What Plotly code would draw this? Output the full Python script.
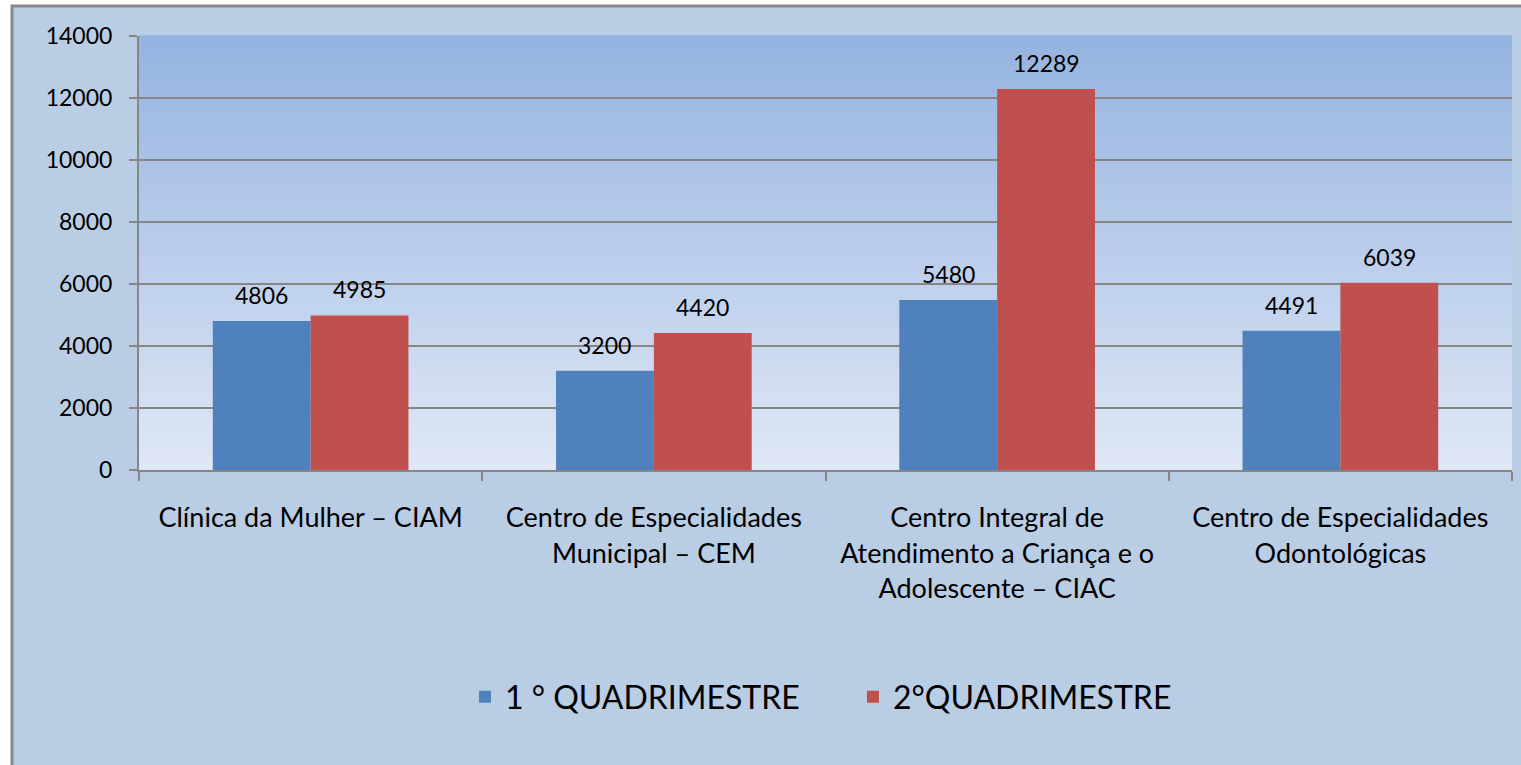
import plotly.graph_objects as go

categories = [
    "Clínica da Mulher – CIAM",
    "Centro de Especialidades<br>Municipal – CEM",
    "Centro Integral de<br>Atendimento a Criança e o<br>Adolescente – CIAC",
    "Centro de Especialidades<br>Odontológicas",
]
q1_values = [4806, 3200, 5480, 4491]
q2_values = [4985, 4420, 12289, 6039]
series_names = ["1 ° QUADRIMESTRE", "2°QUADRIMESTRE"]
y_ticks = [0, 2000, 4000, 6000, 8000, 10000, 12000, 14000]
y_tick_labels = [str(v) for v in y_ticks]

FONT = "Lato"
W, H = 1521, 765
L, R, T, B = 139, 9, 36, 295
pw, ph = W - L - R, H - T - B
BARGAP = 0.43
half_bar = pw / len(categories) * (1 - BARGAP) / 4

fig = go.Figure()
fig.add_trace(go.Bar(x=categories, y=q1_values, name=series_names[0],
                     marker=dict(color="#4f81bd", line=dict(width=0))))
fig.add_trace(go.Bar(x=categories, y=q2_values, name=series_names[1],
                     marker=dict(color="#c0504d", line=dict(width=0))))

annotations = []
for vals, sign in ((q1_values, -1), (q2_values, 1)):
    for c, v in zip(categories, vals):
        annotations.append(dict(x=c, y=v, xref="x", yref="y", text=str(v), showarrow=False,
                                xshift=sign * half_bar, yshift=26, yanchor="middle",
                                font=dict(size=23, family=FONT, color="black")))

shapes = []
# outer chart frame
shapes.append(dict(type="rect", xref="paper", yref="paper",
                   x0=(12 - L) / pw, x1=(W + 20 - L) / pw,
                   y0=-(H + 20 - T - ph) / ph, y1=1 + (T - 6) / ph,
                   fillcolor="#b9cde5", line=dict(color="#898989", width=3), layer="below"))
# gradient plot background
n = 60
top = (0x95, 0xb3, 0xe1)
bot = (0xdf, 0xe7, 0xf5)
for i in range(n):
    f = i / (n - 1)
    c = tuple(round(bot[k] + (top[k] - bot[k]) * f) for k in range(3))
    shapes.append(dict(type="rect", xref="x domain", yref="y domain",
                       x0=0, x1=1, y0=i / n, y1=(i + 1) / n + 0.002,
                       fillcolor="rgb(%d,%d,%d)" % c, line=dict(width=0), layer="below"))

fig.update_layout(
    width=W, height=H,
    margin=dict(l=L, r=R, t=T, b=B),
    paper_bgcolor="white",
    plot_bgcolor="rgba(0,0,0,0)",
    barmode="group", bargap=BARGAP, bargroupgap=0,
    font=dict(family=FONT, color="black"),
    shapes=shapes,
    annotations=annotations,
    showlegend=True,
    legend=dict(orientation="h", x=0.52, xanchor="center", y=-0.523, yanchor="middle",
                font=dict(size=32, family=FONT, color="black"),
                entrywidth=343, entrywidthmode="pixels",
                bgcolor="rgba(0,0,0,0)", traceorder="normal"),
    xaxis=dict(showline=True, linecolor="#868686", linewidth=2,
               ticks="outside", tickson="boundaries", ticklen=9, tickcolor="#868686", tickwidth=2,
               tickfont=dict(size=27, family=FONT, color="black"),
               ticklabelstandoff=23, showgrid=False),
    yaxis=dict(range=[0, 14000], tickvals=y_ticks, ticktext=y_tick_labels,
               showline=True, linecolor="#868686", linewidth=2,
               ticks="outside", ticklen=8, tickcolor="#868686", tickwidth=2,
               tickfont=dict(size=23, family=FONT, color="black"),
               ticklabelstandoff=12,
               showgrid=True, gridcolor="#868686", gridwidth=2, zeroline=False),
)

fig.write_html("out.html", config={"displayModeBar": False},
               post_script="document.body.style.margin='0';")
